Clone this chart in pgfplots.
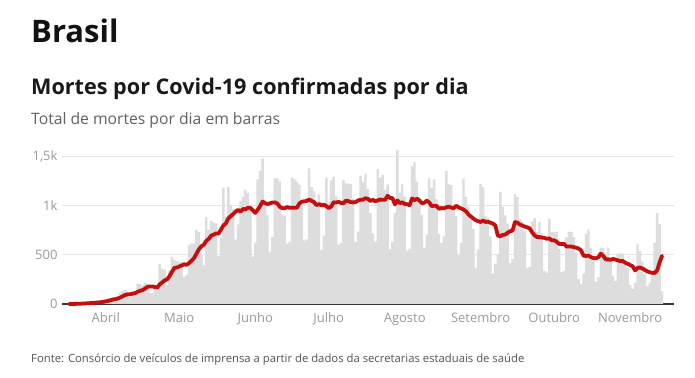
\documentclass[border=0pt]{standalone}
\usepackage{fontspec}
\setmainfont{Open Sans}
\usepackage{pgfplots}
\pgfplotsset{compat=1.18}
\usepackage{pgfplotstable}
\definecolor{barg}{HTML}{DDDDDD}
\definecolor{gridg}{HTML}{E6E6E6}
\definecolor{tickg}{HTML}{9A9A9A}
\definecolor{redl}{HTML}{C50E0E}
\definecolor{axisl}{HTML}{333333}
\pgfplotstableread{
d v a
0 1 0.1
1 3 0.6
2 3 1.0
3 4 1.6
4 7 2.6
5 7 3.6
6 9 4.9
7 12 6.4
8 11 7.6
9 20 10.0
10 15 11.6
11 22 13.7
12 22 15.9
13 23 17.9
14 42 22.1
15 40 26.3
16 58 31.7
17 60 38.1
18 73 45.4
19 54 50.0
20 67 56.3
21 114 66.6
22 133 79.9
23 141 91.7
24 115 99.6
25 68 98.9
26 99 105.3
27 105 110.7
28 204 123.6
29 204 133.7
30 188 140.4
31 217 155.0
32 206 174.7
33 115 177.0
34 113 178.1
35 166 172.7
36 165 167.1
37 407 198.4
38 357 218.4
39 346 238.4
40 189 249.0
41 338 281.1
42 474 325.1
43 449 365.7
44 435 369.7
45 428 379.9
46 421 390.6
47 275 402.9
48 296 396.9
49 600 414.9
50 615 438.6
51 610 463.6
52 751 509.7
53 730 553.9
54 496 585.4
55 396 599.7
56 881 639.9
57 749 659.0
58 844 692.4
59 824 702.9
60 816 715.1
61 485 713.6
62 674 753.3
63 1179 795.9
64 888 815.7
65 1188 864.9
66 1001 890.1
67 965 911.4
68 653 935.4
69 807 954.4
70 1039 934.4
71 1086 962.7
72 1156 958.1
73 1124 975.7
74 956 974.4
75 480 949.7
76 623 923.4
77 1262 955.3
78 1349 992.9
79 1473 1038.1
80 1005 1021.1
81 904 1013.7
82 525 1020.1
83 679 1028.1
84 1272 1029.6
85 1274 1018.9
86 1239 985.4
87 909 971.7
88 892 970.0
89 612 982.4
90 627 975.0
91 1282 976.4
92 1269 975.7
93 1238 975.6
94 1206 1018.0
95 1022 1036.6
96 641 1040.7
97 654 1044.6
98 1374 1057.7
99 1185 1045.7
100 1141 1031.9
101 990 1001.0
102 1109 1013.4
103 552 1000.7
104 692 1006.1
105 1280 992.7
106 1038 971.7
107 1252 987.6
108 1290 1030.4
109 1091 1027.9
110 602 1035.0
111 620 1024.7
112 1254 1021.0
113 1223 1047.4
114 1220 1042.9
115 1214 1032.0
116 1071 1029.1
117 631 1033.3
118 733 1049.4
119 1300 1056.0
120 1233 1057.4
121 1322 1072.0
122 1163 1064.7
123 921 1043.3
124 716 1055.4
125 632 1041.0
126 1367 1050.6
127 1284 1057.9
128 1311 1056.3
129 1156 1055.3
130 1211 1096.7
131 555 1073.7
132 627 1073.0
133 921 1009.3
134 1560 1048.7
135 1129 1022.7
136 1212 1030.7
137 1088 1013.1
138 541 1011.1
139 561 1001.7
140 1394 1069.3
141 1437 1051.7
142 1237 1067.1
143 1079 1048.1
144 905 1022.0
145 572 1026.4
146 703 1046.7
147 1274 1029.6
148 1175 992.1
149 1262 995.7
150 1060 993.0
151 709 965.0
152 620 971.9
153 684 969.1
154 1352 980.3
155 1212 985.6
156 1204 977.3
157 1007 969.7
158 892 995.9
159 494 977.9
160 620 968.7
161 1271 957.1
162 1085 939.0
163 984 907.6
164 855 885.9
165 758 866.7
166 366 848.4
167 553 838.9
168 1215 830.9
169 1184 845.0
170 888 831.3
171 874 834.0
172 682 823.1
173 310 815.1
174 410 794.7
175 504 693.1
176 1136 686.3
177 983 699.9
178 899 703.4
179 814 722.3
180 415 737.3
181 455 743.7
182 1113 830.7
183 1082 823.0
184 858 805.1
185 829 795.1
186 739 784.4
187 363 777.0
188 377 765.9
189 836 726.3
190 869 695.9
191 729 677.4
192 831 677.7
193 710 673.6
194 335 669.6
195 317 661.0
196 863 664.9
197 729 644.9
198 732 645.3
199 728 630.6
200 558 608.9
201 322 607.0
202 333 609.3
203 676 582.6
204 734 583.3
205 729 582.9
206 678 575.7
207 523 570.7
208 254 561.0
209 201 542.1
210 309 489.7
211 713 486.7
212 754 490.3
213 571 475.0
214 461 466.1
215 230 462.7
216 271 472.7
217 571 510.1
218 566 489.1
219 497 452.4
220 571 452.4
221 432 448.3
222 287 456.4
223 231 450.7
224 510 442.0
225 513 434.4
226 510 436.3
227 440 417.6
228 363 407.7
229 190 393.9
230 152 382.6
231 215 340.4
232 610 365
233 538 370
234 432 360
235 308 345
236 180 330
237 216 322
238 327 316
239 623 314
240 920 340
241 810 420
242 130 488
}\data

\begin{document}
\begin{tikzpicture}
\useasboundingbox[fill=white] (0,0) rectangle (695bp,378bp);
\node[anchor=base west, inner sep=0, text=black!93] at (31bp,335bp) {\fontsize{31bp}{34bp}\selectfont\bfseries Brasil};
\node[anchor=base west, inner sep=0, text=black!90] at (31bp,283bp) {\fontsize{21.6bp}{24bp}\selectfont\bfseries Mortes por Covid-19 confirmadas por dia};
\node[anchor=base west, inner sep=0, text=black!62] at (31bp,253bp) {\fontsize{15.7bp}{18bp}\selectfont Total de mortes por dia em barras};
\node[anchor=base west, inner sep=0, text=black!68] at (31bp,16bp) {\fontsize{11.3bp}{13bp}\selectfont Fonte: Consórcio de veículos de imprensa a partir de dados da secretarias estaduais de saúde};
\begin{axis}[
  at={(62bp,74bp)}, anchor=south west,
  scale only axis, width=612bp, height=157.9bp,
  xmin=-2.86, xmax=246.9, ymin=0, ymax=1600,
  axis line style={draw=none},
  major tick length=0pt,
  ytick={0,500,1000,1500}, yticklabels={0,500,1k,{1,5k}},
  xtick={15,45,76,106,137,168,198,229},
  xticklabels={Abril,Maio,Junho,Julho,Agosto,Setembro,Outubro,Novembro},
  ymajorgrids, grid style={draw=gridg, line width=0.8bp},
  extra y ticks={0}, extra y tick labels={},
  extra y tick style={grid=major, major grid style={draw=axisl, line width=1.1bp}},
  tick label style={font=\fontsize{13bp}{15bp}\selectfont, text=tickg},
  xticklabel style={yshift=-5.5bp},
  yticklabel style={xshift=-1bp},
  clip=false,
]
\addplot[ybar, bar width=1, fill=barg, draw=none] table[x=d,y=v]{\data};
\addplot[redl, line width=3.8bp, line join=round, line cap=round] table[x=d,y=a]{\data};
\end{axis}
\end{tikzpicture}
\end{document}
